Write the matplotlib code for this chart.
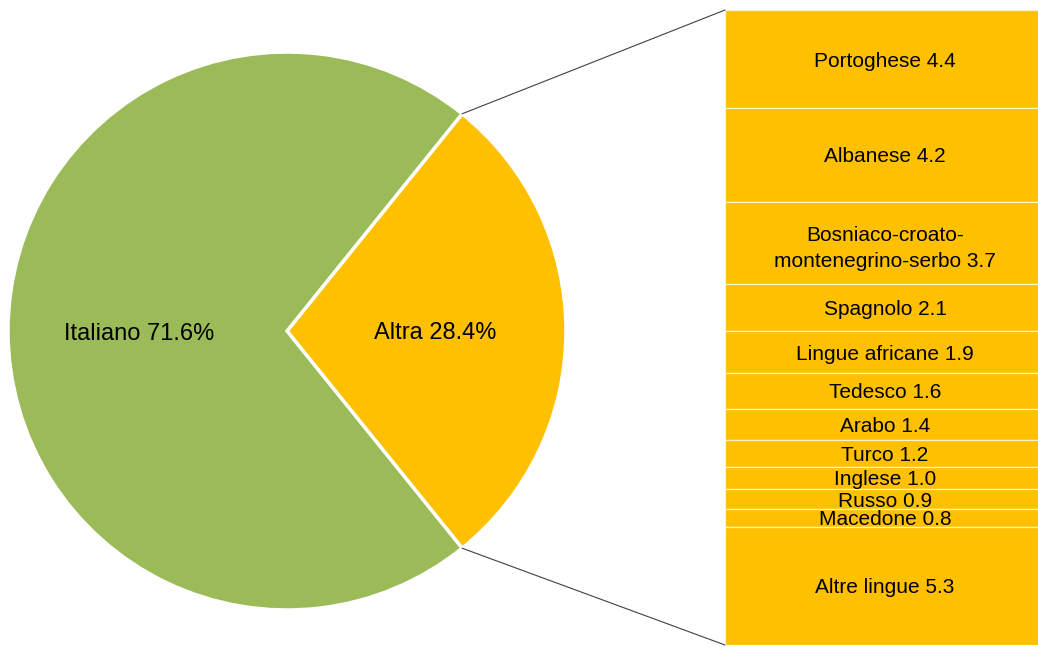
import matplotlib
matplotlib.use("Agg")
import matplotlib.pyplot as plt
from matplotlib.patches import ConnectionPatch
import numpy as np

plt.rcParams['font.family'] = ['Liberation Sans', 'DejaVu Sans']

pie_labels = ["Altra", "Italiano"]
pie_values = [28.4, 71.6]
pie_colors = ["#FFC000", "#9BBB59"]

bar_labels = ["Portoghese", "Albanese", "Bosniaco-croato-\nmontenegrino-serbo", "Spagnolo",
              "Lingue africane", "Tedesco", "Arabo", "Turco", "Inglese", "Russo",
              "Macedone", "Altre lingue"]
bar_values = [4.4, 4.2, 3.7, 2.1, 1.9, 1.6, 1.4, 1.2, 1.0, 0.9, 0.8, 5.3]

W, H = 1038, 647
fig = plt.figure(figsize=(W / 100, H / 100), dpi=100)

# Pie axes: center (287, 331) px, radius 279 px
cx, cy, r = 287, 331, 279
ax = fig.add_axes([(cx - r) / W, (H - cy - r) / H, 2 * r / W, 2 * r / H])
start = -pie_values[0] / 100 * 180
wedges, _ = ax.pie(pie_values, colors=pie_colors, startangle=start, counterclock=True,
                   radius=1, wedgeprops=dict(edgecolor="white", linewidth=2.5))
ax.set_xlim(-1, 1)
ax.set_ylim(-1, 1)
ax.set_axis_off()
for w, lab, v in zip(wedges, pie_labels, pie_values):
    ang = np.deg2rad((w.theta1 + w.theta2) / 2)
    rr = 0.53
    ax.text(rr * np.cos(ang), rr * np.sin(ang), f"{lab} {v}%", ha="center",
            va="center_baseline", fontsize=17, color="black")

# Bar axes
top_px, bot_px = 10, 645
bx0, bw = 725, 320
bax = fig.add_axes([bx0 / W, (H - bot_px) / H, bw / W, (bot_px - top_px) / H])
total = sum(bar_values)
bottoms = np.concatenate([[0], np.cumsum(bar_values)[:-1]])
bax.bar([0] * len(bar_values), bar_values, bottom=bottoms, width=1, color="#FFC000",
        edgecolor="#FFF2CC", linewidth=0.9)
bax.set_xlim(-0.5, 0.5)
bax.set_ylim(total, 0)
bax.set_axis_off()
for lab, v, b in zip(bar_labels, bar_values, bottoms):
    y = b + v / 2
    bax.text(-0.0, y, f"{lab} {v:.1f}", ha="center", va="center_baseline", fontsize=15,
             color="black", linespacing=1.45)

# Connection lines
t_top = np.deg2rad(wedges[0].theta2)
t_bot = np.deg2rad(wedges[0].theta1)
for t, yb in [(t_top, 0), (t_bot, total)]:
    con = ConnectionPatch(xyA=(np.cos(t), np.sin(t)), coordsA=ax.transData,
                          xyB=(-0.5, yb), coordsB=bax.transData,
                          color="#404040", linewidth=0.8)
    fig.add_artist(con)

fig.savefig("out.png", dpi=100)
